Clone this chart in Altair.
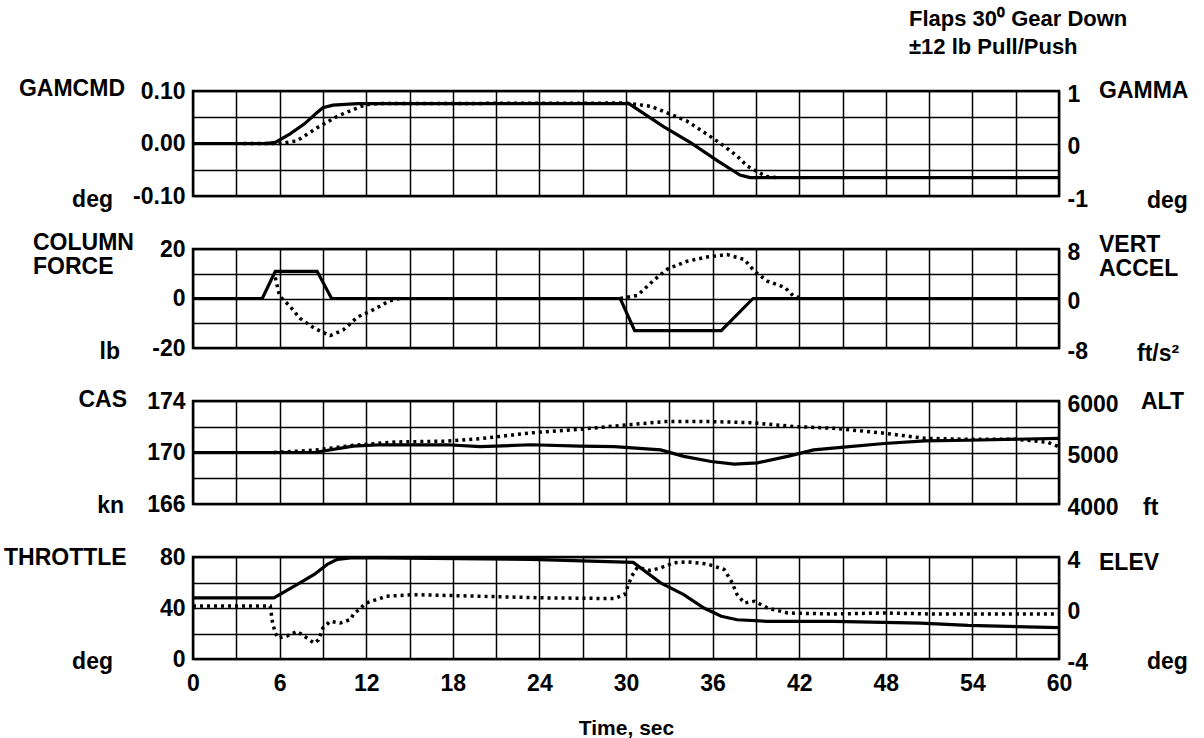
import altair as alt
import pandas as pd

FONT = "Liberation Sans"
FS = 23

# ---------------- data ----------------
time_grid = list(range(0, 61, 3))

# Panel 1: GAMCMD (deg, solid, left) and GAMMA (deg, dotted, right)
gamcmd_t = [0, 5.0, 5.7, 6.7, 7.7, 8.6, 9.0, 9.7, 11.4, 20, 30.2, 32.6, 34.5, 36.4, 37.9, 38.6, 45, 52, 60]
gamcmd_v = [0, 0, 0.002, 0.018, 0.037, 0.059, 0.068, 0.073, 0.076, 0.076, 0.076, 0.032, 0.001, -0.034, -0.060, -0.065, -0.065, -0.065, -0.065]
gamma_t = [3.5, 6.0, 7.2, 8.6, 10.0, 11.4, 12.0, 13, 30, 31.7, 32.8, 34.2, 35.6, 36.8, 37.7, 38.4, 39.2, 39.7, 40.5]
gamma_v = [0, 0.0, 0.05, 0.30, 0.52, 0.68, 0.74, 0.76, 0.77, 0.71, 0.59, 0.43, 0.18, -0.05, -0.24, -0.43, -0.55, -0.63, -0.65]

# Panel 2: column force (lb, solid, left) and vertical accel (ft/s2, dotted, right)
force_t = [0, 4.8, 5.7, 8.6, 9.6, 29.6, 30.6, 36.6, 38.8, 60]
force_v = [0, 0, 11, 11, 0, 0, -13, -13, 0, 0]
accel1_t = [5.7, 6.0, 6.7, 7.4, 8.4, 9.5, 10.4, 11.4, 12.5, 13.6, 14.3]
accel1_v = [3.4, 0.4, -1.2, -3.2, -4.8, -6.0, -5.1, -3.0, -1.8, -0.4, 0]
accel2_t = [29.6, 30.8, 31.9, 32.9, 34.2, 35.6, 37.0, 38.2, 38.9, 39.8, 41.0, 41.6, 42.3]
accel2_v = [0, 0.5, 2.9, 4.8, 6.0, 6.7, 7.1, 6.3, 4.4, 2.8, 1.8, 0.4, 0]

# Panel 3: CAS (kn, solid, left) and ALT (ft, dotted, right)
cas_t = [0, 8.4, 11.1, 13, 17.6, 19.9, 23.4, 26.8, 29.2, 32.4, 34.0, 35.9, 37.5, 39.1, 41.2, 43, 44.9, 47.9, 50.7, 53.7, 60]
cas_v = [170, 170, 170.5, 170.6, 170.6, 170.45, 170.6, 170.5, 170.45, 170.2, 169.7, 169.3, 169.1, 169.2, 169.7, 170.2, 170.4, 170.7, 170.9, 170.95, 171.1]
alt_t = [5.6, 8.4, 11.1, 14.1, 17.6, 19.9, 23.4, 26.8, 30.4, 32.7, 35.9, 38.6, 41.6, 44.4, 47.9, 50.7, 53.7, 57.1, 59.2, 60]
alt_v = [5000, 5045, 5140, 5205, 5220, 5270, 5380, 5450, 5545, 5600, 5600, 5580, 5505, 5470, 5375, 5275, 5255, 5255, 5200, 5110]

# Panel 4: throttle (deg, solid, left) and elevator (deg, dotted, right)
thr_t = [0, 5.6, 7.2, 8.4, 9.3, 10, 11.1, 23.4, 30.5, 32.4, 34, 35.4, 36.6, 37.7, 39.8, 44.4, 50.4, 53.7, 60]
thr_v = [48, 48, 58.4, 66.3, 74.2, 78.1, 79.4, 78.1, 75.8, 59.7, 50.5, 40, 33.5, 30.8, 29.5, 29.5, 28.2, 26.4, 24.6]
elev_t = [0, 5.35, 5.5, 5.7, 5.9, 6.5, 7.2, 7.7, 8.4, 8.7, 9.0, 9.5, 10.2, 10.9, 11.1, 12, 13.4, 15.3, 19.9, 24.6,
          29.2, 29.9, 30.4, 30.8, 31.7, 32.4, 33.3, 34.2, 35.6, 36.8, 37.3, 37.7, 38.2, 38.9, 39.8, 41.2, 44.4, 47.9, 51.3, 60]
elev_v = [0.15, 0.15, -1.05, -1.97, -2.36, -2.2, -1.83, -2.2, -2.76, -2.5, -1.57, -1.05, -1.18, -0.91, -0.52, 0.39, 0.92, 1.05, 0.92, 0.79,
          0.74, 1.05, 2.5, 3.2, 2.94, 3.15, 3.54, 3.62, 3.46, 3.02, 2.1, 1.05, 0.39, 0.53, 0, -0.39, -0.47, -0.39, -0.47, -0.47]

# axis ticks / labels
p1_left_grid = [-0.1, -0.05, 0.0, 0.05, 0.1]
p1_left_vals = [0.1, 0.0, -0.1]
p1_left_labels = ["0.10", "0.00", "-0.10"]
p1_right_vals = [1, 0, -1]
p1_right_labels = ["1", "0", "-1"]

p2_left_grid = [-20, -10, 0, 10, 20]
p2_left_vals = [20, 0, -20]
p2_left_labels = ["20", "0", "-20"]
p2_right_vals = [8, 0, -8]
p2_right_labels = ["8", "0", "-8"]

p3_left_grid = [166, 168, 170, 172, 174]
p3_left_vals = [174, 170, 166]
p3_left_labels = ["174", "170", "166"]
p3_right_vals = [6000, 5000, 4000]
p3_right_labels = ["6000", "5000", "4000"]

p4_left_grid = [0, 20, 40, 60, 80]
p4_left_vals = [80, 40, 0]
p4_left_labels = ["80", "40", "0"]
p4_right_vals = [4, 0, -4]
p4_right_labels = ["4", "0", "-4"]

# ---------------- chart ----------------
W = 866
HEIGHTS = [105, 99, 103, 102]
GRID_W = 1.5


def label_expr(values, labels):
    s = ""
    for v, l in zip(values, labels):
        s += f"datum.value == {v} ? '{l}' : "
    return s + "''"


def xaxis(bottom):
    if bottom:
        return alt.Axis(values=time_grid, grid=True, gridColor="black", gridWidth=GRID_W, gridOpacity=1,
                        ticks=False, domain=False, labelExpr="datum.value % 6 == 0 ? datum.label : ''",
                        labelFont=FONT, labelFontSize=FS, labelFontWeight="bold", labelColor="black",
                        labelPadding=13, labelFlush=False, labelOverlap=False,
                        title="Time, sec", titleFont=FONT, titleFontSize=21, titleFontWeight="bold",
                        titleColor="black", titlePadding=22)
    return alt.Axis(values=time_grid, grid=True, gridColor="black", gridWidth=GRID_W, gridOpacity=1,
                    ticks=False, domain=False, labels=False, title=None)


def text_layer(txt, x, y, align, size=FS):
    return alt.Chart(pd.DataFrame({"a": [0]})).mark_text(
        font=FONT, fontSize=size, fontWeight="bold", color="black", align=align, baseline="middle"
    ).encode(x=alt.value(x), y=alt.value(y), text=alt.value(txt))


def panel(h, solid, sdom, lgrid, lvals, llabels, dotted, ddom, rvals, rlabels, notes, bottom=False):
    xs = alt.Scale(domain=[0, 60], nice=False)
    xa = xaxis(bottom)
    left_axis = alt.Axis(orient="left", values=lgrid, grid=True, gridColor="black", gridWidth=GRID_W, gridOpacity=1,
                         ticks=False, domain=False, labelExpr=label_expr(lvals, llabels),
                         labelFont=FONT, labelFontSize=FS, labelFontWeight="bold", labelColor="black",
                         labelPadding=8, labelBaseline="middle", labelFlush=False, labelOverlap=False, title=None)
    right_axis = alt.Axis(orient="right", values=rvals, grid=False, ticks=False, domain=False,
                          labelExpr=label_expr(rvals, rlabels),
                          labelFont=FONT, labelFontSize=FS, labelFontWeight="bold", labelColor="black",
                          labelPadding=8, labelAlign="left", labelBaseline="middle", labelOffset=3,
                          labelFlush=False, labelOverlap=False, title=None)
    xtitle = "Time, sec" if bottom else None
    solid_layer = alt.Chart(solid).mark_line(color="black", strokeWidth=3.2, clip=True).encode(
        x=alt.X("t:Q", scale=xs, axis=xa, title=xtitle),
        y=alt.Y("v:Q", scale=alt.Scale(domain=sdom, nice=False, zero=False), axis=left_axis),
    )
    dotted_layer = alt.Chart(dotted).mark_line(color="black", strokeWidth=3.5, strokeDash=[3, 4], clip=True).encode(
        x=alt.X("t:Q", scale=xs, axis=xa, title=xtitle),
        y=alt.Y("v:Q", scale=alt.Scale(domain=ddom, nice=False, zero=False), axis=right_axis),
        detail="seg:N",
    )
    layers = [solid_layer, dotted_layer] + [text_layer(*n) for n in notes]
    return alt.layer(*layers).resolve_scale(y="independent").properties(width=W, height=h)


def df(t, v, seg="a"):
    return pd.DataFrame({"t": t, "v": v, "seg": seg})


p1 = panel(HEIGHTS[0], df(gamcmd_t, gamcmd_v), [-0.1, 0.1], p1_left_grid, p1_left_vals, p1_left_labels,
           df(gamma_t, gamma_v), [-1, 1], p1_right_vals, p1_right_labels,
           [("GAMCMD", -68, -2, "right"), ("deg", -80, 109, "right"),
            ("GAMMA", 906, 0, "left"), ("deg", 954, 110, "left"),
            ("Flaps 30\u2070 Gear Down", 716, -72, "left", 22), ("\u00b112 lb Pull/Push", 716, -44, "left", 22)])

p2 = panel(HEIGHTS[1], df(force_t, force_v),
           [-20, 20], p2_left_grid, p2_left_vals, p2_left_labels,
           pd.concat([df(accel1_t, accel1_v, "a"), df(accel2_t, accel2_v, "b")]), [-8, 8],
           p2_right_vals, p2_right_labels,
           [("COLUMN", -160, -6, "left"), ("FORCE", -160, 18, "left"), ("lb", -73, 103, "right"),
            ("VERT", 906, -4, "left"), ("ACCEL", 906, 20, "left"), ("ft/s\u00b2", 944, 105, "left")])

p3 = panel(HEIGHTS[2], df(cas_t, cas_v), [166, 174], p3_left_grid, p3_left_vals, p3_left_labels,
           df(alt_t, alt_v), [4000, 6000], p3_right_vals, p3_right_labels,
           [("CAS", -66, -1, "right"), ("kn", -69, 105, "right"),
            ("ALT", 948, 1, "left"), ("ft", 950, 107, "left")])

p4 = panel(HEIGHTS[3], df(thr_t, thr_v), [0, 80], p4_left_grid, p4_left_vals, p4_left_labels,
           df(elev_t, elev_v), [-4, 4], p4_right_vals, p4_right_labels,
           [("THROTTLE", -189, 1, "left"), ("deg", -80, 105, "right"),
            ("ELEV", 906, 6, "left"), ("deg", 954, 105, "left")], bottom=True)

chart = alt.vconcat(p1, p2, p3, p4, spacing=53, bounds="flush").properties(
    padding={"left": 2, "top": 6, "right": 5, "bottom": 5},
    background="white",
).configure_view(stroke="black", strokeWidth=2.5)

chart.save("out.html", embed_options={"renderer": "svg", "actions": False})
